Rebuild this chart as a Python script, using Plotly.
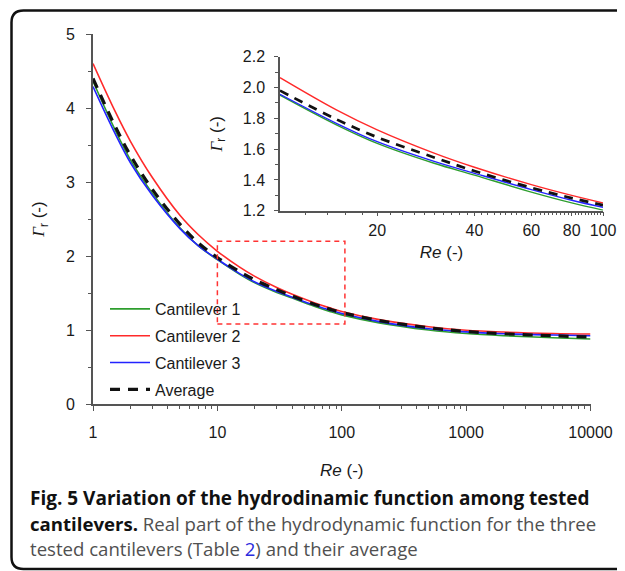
import plotly.graph_objects as go

# ---------------- data ----------------
re_vals = [1, 1.5, 2, 3, 5, 7, 10, 15, 20, 30, 40, 60, 80, 100, 200, 500, 1000, 2000, 5000, 10000]
cant1 = [4.36, 3.71, 3.30, 2.85, 2.38, 2.14, 1.950, 1.756, 1.637, 1.508, 1.431, 1.321, 1.251, 1.204, 1.096, 1.000, 0.953, 0.923, 0.895, 0.878]
cant2 = [4.60, 3.96, 3.55, 3.06, 2.55, 2.29, 2.064, 1.853, 1.725, 1.574, 1.482, 1.369, 1.299, 1.250, 1.140, 1.045, 0.997, 0.972, 0.953, 0.945]
cant3 = [4.29, 3.66, 3.26, 2.82, 2.37, 2.14, 1.956, 1.766, 1.648, 1.520, 1.443, 1.337, 1.268, 1.222, 1.113, 1.018, 0.975, 0.950, 0.932, 0.922]
average = [4.40, 3.76, 3.36, 2.90, 2.43, 2.18, 1.980, 1.792, 1.677, 1.546, 1.458, 1.349, 1.282, 1.236, 1.128, 1.031, 0.980, 0.950, 0.922, 0.905]

series_names = ["Cantilever 1", "Cantilever 2", "Cantilever 3", "Average"]

main_x_ticks = [1, 10, 100, 1000, 10000]
main_y_ticks = [0, 1, 2, 3, 4, 5]
inset_x_ticks = [20, 40, 60, 80, 100]
inset_y_ticks = [1.2, 1.4, 1.6, 1.8, 2.0, 2.2]

zoom_re = [10, 106]      # dashed box on the main plot
zoom_gamma = [1.08, 2.2]

# ---------------- layout helpers (reference pixel -> paper) ----------------
OX, OY = 8, 8                      # page body margin
W, H = 625 - OX, 571 - OY
L, R, T, B = 85, 20, 26, 167
PW, PH = W - L - R, H - T - B

def px(x):
    return (x - OX - L) / PW

def py(y):
    return (H - B - (y - OY)) / PH

colors = ["#2e9e2e", "#ff2a2a", "#2323ff", "#111111"]
widths = [1.6, 1.6, 1.6, 3.2]
dashes = ["solid", "solid", "solid", "10px,8px"]
data = [cant1, cant2, cant3, average]

fig = go.Figure()

for i, (name, ys) in enumerate(zip(series_names, data)):
    fig.add_trace(go.Scatter(
        x=re_vals, y=ys, mode="lines", name=name,
        line=dict(color=colors[i], width=widths[i], dash=dashes[i], shape="spline", smoothing=1.0),
        xaxis="x", yaxis="y", legendgroup=name, showlegend=True))

# inset traces (restricted to inset range)
for i, (name, ys) in enumerate(zip(series_names, data)):
    xs = [x for x in re_vals if zoom_re[0] <= x <= 100]
    yy = [y for x, y in zip(re_vals, ys) if zoom_re[0] <= x <= 100]
    fig.add_trace(go.Scatter(
        x=xs, y=yy, mode="lines", name=name,
        line=dict(color=colors[i], width=widths[i] * 0.85, dash=dashes[i] if i < 3 else "9px,7px",
                  shape="spline", smoothing=1.0),
        xaxis="x2", yaxis="y2", showlegend=False))

axis_color = "#555555"
txt_color = "#1a1a1a"
sans = "Liberation Sans, Arial, sans-serif"
tick_font = dict(family=sans, size=16, color=txt_color)
gamma_title = "<span style=\"font-family:'Liberation Serif',serif\"><i>Γ</i></span><sub>r</sub> (-)"

main_minor_x = [m * 10 ** d for d in range(4) for m in range(2, 10)]
main_minor_y = [v + 0.5 for v in main_y_ticks[:-1]]
inset_minor_x = [v for v in range(12, 100, 2) if v not in inset_x_ticks]
inset_minor_y = [round(v + 0.1, 1) for v in inset_y_ticks[:-1]]

fig.update_layout(
    width=W, height=H,
    margin=dict(l=L, r=R, t=T, b=B, autoexpand=False),
    paper_bgcolor="white", plot_bgcolor="white",
    showlegend=True,
    legend=dict(x=px(105), y=py(292), xanchor="left", yanchor="top",
                bgcolor="rgba(0,0,0,0)", font=dict(family=sans, size=16, color=txt_color),
                traceorder="grouped", tracegroupgap=3, itemwidth=40),
    xaxis=dict(type="log", range=[0, 4], domain=[0, px(590.5)], anchor="y",
               tickvals=main_x_ticks, ticktext=[str(v) for v in main_x_ticks],
               ticks="outside", ticklen=5, tickwidth=1.3, tickcolor=axis_color,
               showline=True, linecolor=axis_color, linewidth=1.6, showgrid=False, zeroline=False,
               tickfont=tick_font, ticklabelstandoff=8,
               minor=dict(tickvals=main_minor_x, ticks="outside", ticklen=3, tickwidth=1.1, tickcolor=axis_color, showgrid=False),
               title=dict(text="<i>Re</i> (-)", font=dict(family=sans, size=17, color=txt_color), standoff=24)),
    yaxis=dict(range=[0, 5], domain=[0, 1], anchor="x",
               tickvals=main_y_ticks, ticktext=[str(v) for v in main_y_ticks],
               ticks="outside", ticklen=5, tickwidth=1.3, tickcolor=axis_color,
               showline=True, linecolor=axis_color, linewidth=1.6, showgrid=False, zeroline=False,
               tickfont=tick_font, ticklabelstandoff=8,
               minor=dict(tickvals=main_minor_y, ticks="outside", ticklen=3, tickwidth=1.1, tickcolor=axis_color, showgrid=False),
               title=dict(text=gamma_title, font=dict(family=sans, size=17, color=txt_color), standoff=17)),
    xaxis2=dict(type="log", range=[1, 2], domain=[px(280), px(603)], anchor="y2",
                tickvals=inset_x_ticks, ticktext=[str(v) for v in inset_x_ticks],
                ticks="outside", ticklen=4, tickwidth=1.2, tickcolor=axis_color,
                showline=True, linecolor=axis_color, linewidth=1.5, showgrid=False, zeroline=False,
                tickfont=tick_font, ticklabelstandoff=0,
                minor=dict(tickvals=inset_minor_x, ticks="outside", ticklen=3, tickwidth=1.0, tickcolor=axis_color, showgrid=False),
                title=dict(text="<i>Re</i> (-)", font=dict(family=sans, size=17, color=txt_color), standoff=8)),
    yaxis2=dict(range=[1.2, 2.2], domain=[py(210.7), py(56.7)], anchor="x2",
                tickvals=inset_y_ticks, ticktext=[f"{v:.1f}" for v in inset_y_ticks],
                ticks="outside", ticklen=4, tickwidth=1.2, tickcolor=axis_color,
                showline=True, linecolor=axis_color, linewidth=1.5, showgrid=False, zeroline=False,
                tickfont=tick_font, ticklabelstandoff=6,
                minor=dict(tickvals=inset_minor_y, ticks="outside", ticklen=3, tickwidth=1.0, tickcolor=axis_color, showgrid=False),
                title=dict(text=gamma_title, font=dict(family=sans, size=17, color=txt_color), standoff=16)),
)

# dashed zoom box (data coordinates)
fig.add_shape(type="rect", xref="x", yref="y",
              x0=zoom_re[0], x1=zoom_re[1], y0=zoom_gamma[0], y1=zoom_gamma[1],
              line=dict(color="#ff3333", width=1.5, dash="5px,4px"), fillcolor="rgba(0,0,0,0)", layer="above")

# rounded frame around figure
x0, y0, x1, y1, r = 11.5, 10.5, 660, 569, 12
path = (f"M {px(x0)},{py(y0 + r)} Q {px(x0)},{py(y0)} {px(x0 + r)},{py(y0)} "
        f"L {px(x1)},{py(y0)} L {px(x1)},{py(y1)} L {px(x0 + r)},{py(y1)} "
        f"Q {px(x0)},{py(y1)} {px(x0)},{py(y1 - r)} Z")
fig.add_shape(type="path", xref="paper", yref="paper", path=path,
              line=dict(color="#111111", width=2.5), fillcolor="rgba(0,0,0,0)")

# caption
cap_family = "Open Sans, Noto Sans, sans-serif"
gray = "#505050"
lines = [
    ("<b>Fig. 5 Variation of the hydrodinamic function among tested</b>", 19),
    (f"<b>cantilevers.</b><span style=\"color:{gray}\"> Real part of the hydrodynamic function for the three</span>", 18.6),
    (f"<span style=\"color:{gray}\">tested cantilevers (Table </span><span style=\"color:#2b2bdd\">2</span>"
     f"<span style=\"color:{gray}\">) and their average</span>", 18.6),
]
for k, (t, s) in enumerate(lines):
    fig.add_annotation(text=t, xref="paper", yref="paper", x=px(28), y=py(498 + 25 * k),
                       xanchor="left", yanchor="middle", showarrow=False,
                       font=dict(family=cap_family, size=s, color="#111111"), align="left")

fig.write_html("out.html")
